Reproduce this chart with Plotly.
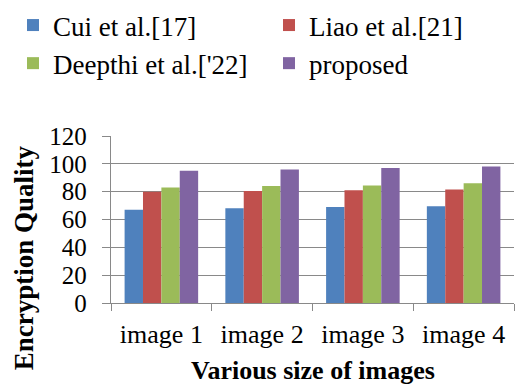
import plotly.graph_objects as go

# Encryption quality per test image for each method
categories = ["image 1", "image 2", "image 3", "image 4"]
cui = [67, 68, 69, 69.5]
liao = [80, 80.5, 81, 81.5]
deepthi = [83, 84, 84.5, 86]
proposed = [95, 96, 97, 98]

series_names = ["Cui et al.[17]", "Liao et al.[21]", "Deepthi et al.['22]", "proposed"]
series_values = [cui, liao, deepthi, proposed]
colors = ["#4F81BD", "#C0504D", "#9BBB59", "#8064A2"]
# left legend column: Cui, Deepthi; right column: Liao, proposed
legend_ids = ["legend", "legend2", "legend", "legend2"]

y_ticks = [0, 20, 40, 60, 80, 100, 120]

FONT = "Liberation Serif"
GRID = "#898989"

W, H = 516, 389
L, R, T, B = 111, 2, 135, 86
plot_w = W - L - R
plot_h = H - T - B


def px_x(p):
    return (p - L) / plot_w


def px_y(p):
    return (H - B - p) / plot_h


fig = go.Figure()
for name, vals, col, lg in zip(series_names, series_values, colors, legend_ids):
    fig.add_trace(go.Bar(x=categories, y=vals, name=name, legend=lg,
                         marker=dict(color=col, line=dict(width=0))))

legend_style = dict(
    orientation="v", xanchor="left", yanchor="top",
    font=dict(family=FONT, size=27, color="black"),
    bgcolor="rgba(0,0,0,0)", tracegroupgap=0, traceorder="normal",
)

fig.update_layout(
    width=W, height=H,
    margin=dict(l=L, r=R, t=T, b=B),
    paper_bgcolor="white", plot_bgcolor="white",
    barmode="group", bargap=0.27, bargroupgap=0,
    font=dict(family=FONT, color="black"),
    legend=dict(x=px_x(13), y=px_y(1), **legend_style),
    legend2=dict(x=px_x(269), y=px_y(1), **legend_style),
    xaxis=dict(
        type="category", range=[-0.5, 3.5],
        showline=True, linecolor=GRID, linewidth=1.3,
        ticks="outside", tickson="boundaries", ticklen=7, tickcolor=GRID, tickwidth=1.3,
        tickfont=dict(family=FONT, size=26, color="black"),
        showgrid=False, ticklabelstandoff=8,
    ),
    yaxis=dict(
        range=[0, 120], tickvals=y_ticks,
        showline=True, linecolor=GRID, linewidth=1.3,
        ticks="outside", ticklen=8, tickcolor=GRID, tickwidth=1.3,
        tickfont=dict(family=FONT, size=25, color="black"),
        showgrid=True, gridcolor=GRID, gridwidth=1.3,
        zeroline=False, ticklabelstandoff=10,
    ),
    annotations=[
        dict(text="<b>Encryption Quality</b>", xref="paper", yref="paper",
             x=px_x(24), y=px_y(258), textangle=-90, showarrow=False,
             xanchor="center", yanchor="middle",
             font=dict(family=FONT, size=27, color="black")),
        dict(text="<b>Various size of images</b>", xref="paper", yref="paper",
             x=0.5, y=px_y(371), showarrow=False,
             xanchor="center", yanchor="middle",
             font=dict(family=FONT, size=26, color="black")),
    ],
)

fig.write_html("out.html")
